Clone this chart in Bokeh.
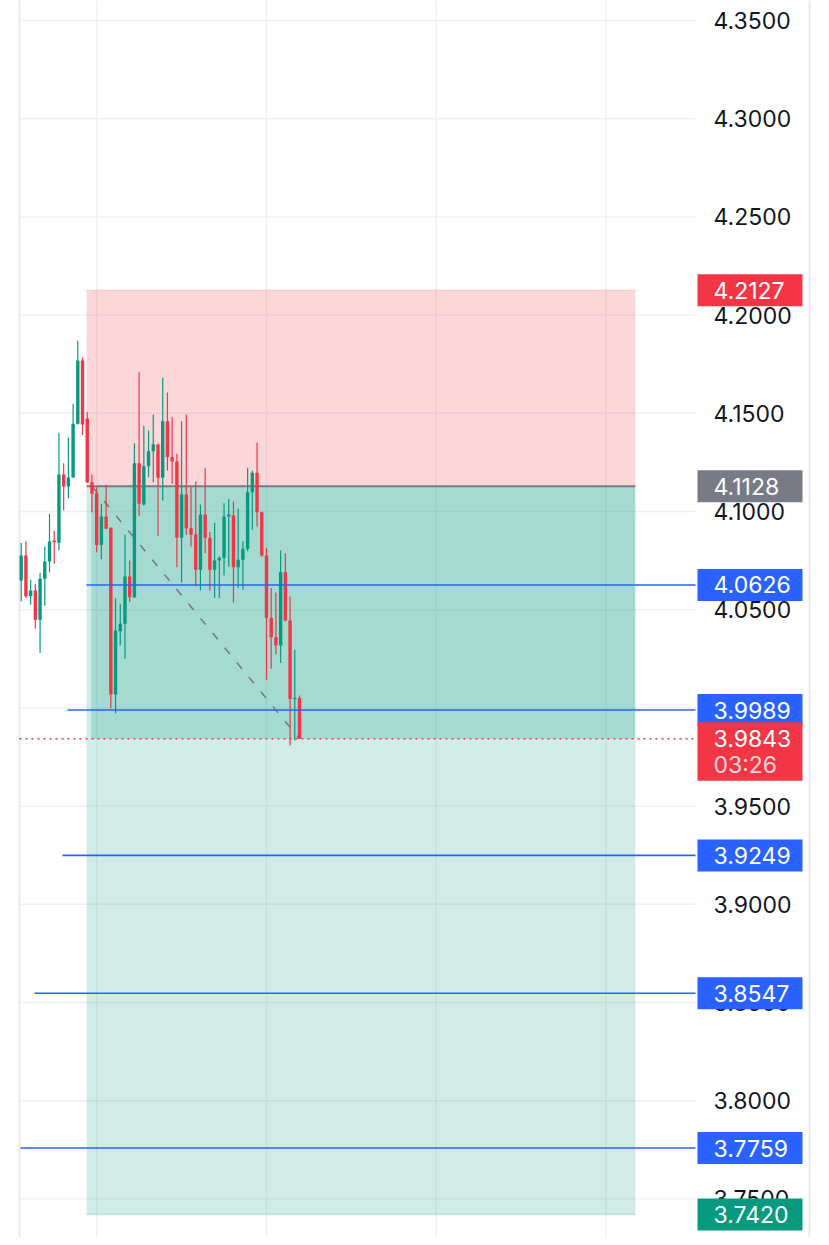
from bokeh.plotting import figure
from bokeh.models import Range1d, ColumnDataSource
from bokeh.embed import file_html
from bokeh.resources import INLINE
from bokeh.core.properties import value

# ---------------- data ----------------
opens = [4.0649, 4.0776, 4.0569, 4.0598, 4.0449, 4.0657, 4.0745, 4.0852, 4.0841, 4.1188,
         4.1127, 4.1173, 4.1447, 4.1769, 4.1474, 4.1149, 4.1093, 4.0830, 4.0975, 4.0917,
         4.0068, 4.0390, 4.0428, 4.0669, 4.0564, 4.1246, 4.1036, 4.1231, 4.1307, 4.1341,
         4.1172, 4.1460, 4.1277, 4.1255, 4.0866, 4.1087, 4.0915, 4.0883, 4.0703, 4.0985,
         4.0866, 4.0703, 4.0751, 4.0764, 4.0975, 4.0980, 4.0716, 4.0754, 4.0810, 4.1098,
         4.1197, 4.0996, 4.0776, 4.0459, 4.0360, 4.0318, 4.0691, 4.0445, 4.0046, 4.0051]
highs = [4.0839, 4.0849, 4.0652, 4.0632, 4.0688, 4.0822, 4.0988, 4.0902, 4.1401, 4.1246,
         4.1377, 4.1548, 4.1869, 4.1786, 4.1506, 4.1188, 4.1124, 4.1039, 4.1136, 4.0920,
         4.0557, 4.0530, 4.0883, 4.0751, 4.1348, 4.1709, 4.1436, 4.1412, 4.1494, 4.1345,
         4.1681, 4.1606, 4.1480, 4.1294, 4.1460, 4.1494, 4.1124, 4.1153, 4.1036, 4.1223,
         4.0895, 4.0943, 4.0771, 4.1042, 4.1065, 4.1051, 4.1014, 4.0849, 4.1223, 4.1209,
         4.1351, 4.1000, 4.0815, 4.0610, 4.0588, 4.0801, 4.0788, 4.0567, 4.0296, 4.0063]
lows = [4.0543, 4.0560, 4.0525, 4.0403, 4.0279, 4.0520, 4.0691, 4.0734, 4.0801, 4.1005,
        4.1068, 4.1170, 4.1443, 4.1390, 4.1145, 4.0996, 4.0793, 4.0757, 4.0910, 3.9998,
        3.9973, 4.0318, 4.0250, 4.0538, 4.0560, 4.0976, 4.1030, 4.1175, 4.1149, 4.0874,
        4.1056, 4.1209, 4.1141, 4.0716, 4.0640, 4.0881, 4.0822, 4.0618, 4.0598, 4.0788,
        4.0598, 4.0560, 4.0560, 4.0674, 4.0720, 4.0537, 4.0611, 4.0601, 4.0798, 4.0907,
        4.0924, 4.0770, 4.0143, 4.0199, 4.0272, 4.0228, 4.0440, 3.9809, 3.9834, 3.9843]
closes = [4.0776, 4.0569, 4.0598, 4.0449, 4.0657, 4.0745, 4.0847, 4.0844, 4.1188, 4.1127,
          4.1173, 4.1447, 4.1769, 4.1443, 4.1149, 4.1090, 4.0830, 4.0975, 4.0912, 4.0068,
          4.0394, 4.0428, 4.0669, 4.0564, 4.1246, 4.1039, 4.1231, 4.1307, 4.1341, 4.1172,
          4.1460, 4.1277, 4.1255, 4.0866, 4.1087, 4.0915, 4.0881, 4.0703, 4.0985, 4.0866,
          4.0703, 4.0751, 4.0764, 4.0975, 4.0985, 4.0716, 4.0754, 4.0810, 4.1098, 4.1197,
          4.0996, 4.0776, 4.0459, 4.0360, 4.0318, 4.0691, 4.0445, 4.0046, 4.0051, 3.9843]

# short position tool
stop_price = 4.2127
entry_price = 4.1128
target_price = 3.7420
last_price = 3.9843
countdown = "03:26"
pos_start_bar = 13.85
pos_end_bar = 130.2
entry_bar = 15
last_bar = 59

# horizontal rays (price, starting bar)
ray_prices = [4.0626, 3.9989, 3.9249, 3.8547, 3.7759]
ray_start_bars = [13.85, 9.8, 8.75, 2.8, -0.15]

# axis ticks
tick_values = [4.35, 4.30, 4.25, 4.20, 4.15, 4.10, 4.05, 4.00, 3.95, 3.90, 3.85, 3.80, 3.75]
tick_labels = ["4.3500", "4.3000", "4.2500", "4.2000", "4.1500", "4.1000", "4.0500",
               "4.0000", "3.9500", "3.9000", "3.8500", "3.8000", "3.7500"]
vgrid_bars = [16, 52, 88, 124]

# ---------------- layout helpers ----------------
W, H = 821, 1237
BAR0 = 20.7          # canvas x of bar 0
STEP = 4.717         # px per bar
PPU = 1964.0         # px per price unit
Y435 = 20.0          # canvas y of 4.35


def bx(px):
    return (px - BAR0) / STEP


def dp(px):
    return px / PPU


x_start = bx(0)
x_end = bx(W)
y_top = 4.35 + dp(Y435)
y_bot = 4.35 - dp(H - Y435)

plot_right = bx(695)
label_x = bx(713)
badge_l, badge_r = bx(697), bx(802)

GREEN = "#089981"
RED = "#f23645"
BLUE = "#2962ff"
GREY = "#787b86"
GRID = "#eef0f3"
FONT = value("Inter")
FSIZE = value("23px")

p = figure(width=W, height=H, output_backend="svg", toolbar_location=None,
           x_range=Range1d(x_start, x_end), y_range=Range1d(y_bot, y_top),
           min_border=0, x_axis_location=None, y_axis_location=None)
p.grid.visible = False
p.outline_line_color = None
p.background_fill_color = "white"

# grid
p.segment(x0=[bx(19)] * len(tick_values), x1=[plot_right] * len(tick_values),
          y0=tick_values, y1=tick_values, line_color=GRID, line_width=1.4)
p.segment(x0=vgrid_bars, x1=vgrid_bars, y0=[y_bot] * len(vgrid_bars),
          y1=[y_top] * len(vgrid_bars), line_color=GRID, line_width=1.4)
# pane borders
p.segment(x0=[bx(19), bx(809)], x1=[bx(19), bx(809)], y0=[y_bot, y_bot],
          y1=[y_top, y_top], line_color="#e8e8f1", line_width=2)

# position zones
p.quad(left=[pos_start_bar], right=[pos_end_bar], bottom=[entry_price], top=[stop_price],
       fill_color=RED, fill_alpha=0.2, line_color=None)
p.quad(left=[pos_start_bar], right=[pos_end_bar], bottom=[target_price], top=[entry_price],
       fill_color=GREEN, fill_alpha=0.19, line_color=None)
p.quad(left=[entry_bar - 0.15], right=[pos_end_bar], bottom=[last_price], top=[entry_price],
       fill_color=GREEN, fill_alpha=0.22, line_color=None)
p.segment(x0=[pos_start_bar], x1=[pos_end_bar], y0=[stop_price], y1=[stop_price],
          line_color=RED, line_alpha=0.15, line_width=1.5)
p.segment(x0=[pos_start_bar], x1=[pos_end_bar], y0=[target_price], y1=[target_price],
          line_color=GREEN, line_alpha=0.2, line_width=1.5)
p.segment(x0=[pos_start_bar], x1=[pos_end_bar], y0=[entry_price], y1=[entry_price],
          line_color=GREY, line_width=2)
p.segment(x0=[entry_bar], x1=[last_bar], y0=[entry_price], y1=[last_price],
          line_color=GREY, line_width=1.6, line_dash="8 11")

# candles
idx = list(range(len(opens)))
colors = [GREEN if c >= o else RED for o, c in zip(opens, closes)]
tops = [max(o, c) for o, c in zip(opens, closes)]
bots = [min(o, c) for o, c in zip(opens, closes)]
bots = [b if t - b > dp(1.2) else t - dp(1.2) for t, b in zip(tops, bots)]
src = ColumnDataSource(dict(x=idx, o=opens, h=highs, l=lows, c=closes,
                            top=tops, bot=bots, color=colors))
p.segment(x0="x", x1="x", y0="l", y1="h", line_color="color", line_width=1.2, source=src)
p.vbar(x="x", width=0.72, top="top", bottom="bot", fill_color="color",
       line_color=None, source=src)

# rays
p.segment(x0=ray_start_bars, x1=[plot_right] * len(ray_prices), y0=ray_prices,
          y1=ray_prices, line_color=BLUE, line_width=1.6)
# last price dotted line
p.segment(x0=[bx(19)], x1=[plot_right], y0=[last_price], y1=[last_price],
          line_color=RED, line_width=1.6, line_dash="2 4")

# axis labels
p.text(x=[label_x] * len(tick_values), y=tick_values, text=tick_labels,
       text_font=FONT, text_font_size=FSIZE, text_color="#131722",
       text_align="left", text_baseline="middle")

# badges
badge_prices = [stop_price, entry_price, ray_prices[0], ray_prices[1],
                ray_prices[2], ray_prices[3], ray_prices[4], target_price]
badge_colors = [RED, GREY, BLUE, BLUE, BLUE, BLUE, BLUE, GREEN]
hh = dp(16)
p.quad(left=[badge_l] * len(badge_prices), right=[badge_r] * len(badge_prices),
       bottom=[v - hh for v in badge_prices], top=[v + hh for v in badge_prices],
       fill_color=badge_colors, line_color=None)
p.text(x=[label_x] * len(badge_prices), y=badge_prices,
       text=["%.4f" % v for v in badge_prices], text_font=FONT, text_font_size=FSIZE,
       text_color="white", text_align="left", text_baseline="middle")

# last price badge (two lines)
p.quad(left=[badge_l], right=[badge_r], bottom=[last_price - dp(42)],
       top=[last_price + dp(16.5)], fill_color=RED, line_color=None)
p.text(x=[label_x], y=[last_price], text=["%.4f" % last_price], text_font=FONT,
       text_font_size=FSIZE, text_color="white", text_align="left", text_baseline="middle")
p.text(x=[label_x], y=[last_price - dp(26.7)], text=[countdown], text_font=FONT,
       text_font_size=FSIZE, text_color="white", text_alpha=0.8, text_align="left",
       text_baseline="middle")

open("out.html", "w").write(file_html(p, INLINE))
